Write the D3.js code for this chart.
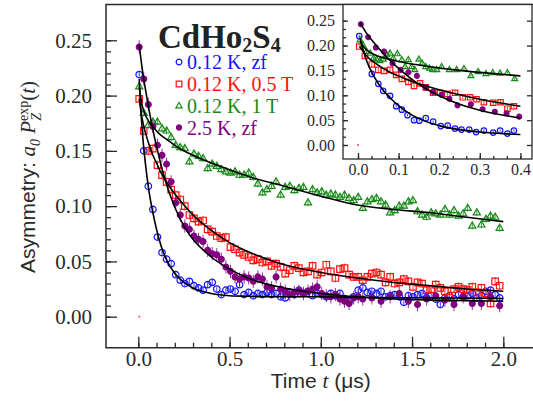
<!DOCTYPE html>
<html>
<head>
<meta charset="utf-8">
<script src="https://cdn.jsdelivr.net/npm/d3@7"></script>
<style>
  body { margin: 0; background: #fff; }
  svg { display: block; }
</style>
</head>
<body>
<div id="container"></div>
<script>
// ---------- data ----------
// main panel, time in microseconds
var tGrid = [0.005,0.030,0.055,0.080,0.105,0.130,0.155,0.180,0.205,0.230,
             0.255,0.280,0.305,0.330,0.355,0.380,0.405,0.430,0.455,0.480,
             0.505,0.530,0.555,0.580,0.605,0.630,0.655,0.680,0.705,0.730,
             0.755,0.780,0.805,0.830,0.855,0.880,0.905,0.930,0.955,0.980,
             1.005,1.030,1.055,1.080,1.105,1.130,1.155,1.180,1.205,1.230,
             1.255,1.280,1.305,1.330,1.355,1.380,1.405,1.430,1.455,1.480,
             1.505,1.530,1.555,1.580,1.605,1.630,1.655,1.680,1.705,1.730,
             1.755,1.780,1.805,1.830,1.855,1.880,1.905,1.930,1.955,1.980];

// 0.12 K, zf
var lowZf = [0.219,0.150,0.118,0.097,0.072,0.058,0.052,0.048,0.038,0.033,
             0.030,0.032,0.028,0.026,0.024,0.029,0.031,0.025,0.020,0.024,
             0.025,0.023,0.029,0.020,0.022,0.019,0.021,0.020,0.022,0.020,
             0.021,0.018,0.017,0.022,0.020,0.024,0.021,0.023,0.019,0.021,
             0.020,0.018,0.021,0.019,0.021,0.016,0.014,0.018,0.024,0.026,
             0.022,0.023,0.021,0.023,0.018,0.019,0.020,0.018,0.013,0.019,
             0.018,0.020,0.021,0.017,0.019,0.016,0.011,0.017,0.019,0.016,
             0.020,0.018,0.019,0.021,0.017,0.019,0.023,0.024,0.020,0.017];

// 0.12 K, 0.5 T
var lowHalfT = [0.197,0.168,0.150,0.152,0.137,0.128,0.122,0.115,0.110,0.106,
                0.100,0.092,0.089,0.086,0.087,0.079,0.077,0.073,0.071,0.072,
                0.063,0.061,0.058,0.056,0.054,0.051,0.052,0.049,0.050,0.046,
                0.048,0.045,0.039,0.042,0.046,0.044,0.040,0.041,0.046,0.038,
                0.040,0.047,0.041,0.035,0.043,0.044,0.038,0.036,0.036,0.033,
                0.036,0.039,0.040,0.038,0.031,0.036,0.030,0.031,0.034,0.032,
                0.027,0.031,0.030,0.024,0.025,0.029,0.026,0.023,0.017,0.025,
                0.027,0.025,0.024,0.027,0.022,0.026,0.021,0.012,0.032,0.028];

// 0.12 K, 1 T
var lowOneT = [0.208,0.184,0.173,0.176,0.176,0.170,0.168,0.162,0.155,0.153,
               0.152,0.140,0.147,0.145,0.143,0.134,0.138,0.136,0.133,0.131,
               0.130,0.131,0.128,0.128,0.130,0.126,0.120,0.112,0.115,0.118,
               0.122,0.110,0.117,0.118,0.114,0.116,0.117,0.103,0.115,0.112,
               0.113,0.110,0.111,0.110,0.108,0.110,0.107,0.105,0.108,0.098,
               0.104,0.106,0.107,0.104,0.101,0.094,0.096,0.100,0.100,0.104,
               0.105,0.095,0.092,0.090,0.094,0.093,0.092,0.097,0.092,0.096,
               0.091,0.093,0.098,0.082,0.094,0.083,0.088,0.091,0.090,0.080];

// 2.5 K, zf (sparser at late times)
var tHot = [0.005,0.030,0.055,0.080,0.105,0.130,0.155,0.180,0.205,0.230,
            0.255,0.280,0.305,0.330,0.355,0.380,0.405,0.430,0.455,0.480,
            0.505,0.530,0.555,0.580,0.605,0.630,0.655,0.680,0.705,0.730,
            0.755,0.780,0.805,0.830,0.855,0.880,0.905,0.930,0.955,0.980,
            1.005,1.030,1.055,1.080,1.105,1.130,1.155,1.180,1.205,1.230,
            1.280,1.330,1.380,1.430,1.480,1.530,1.580,1.630,1.680,1.730,
            1.780,1.830,1.880,1.930,1.980];
var hotZf = [0.244,0.215,0.192,0.172,0.155,0.146,0.138,0.122,0.103,0.092,
             0.082,0.079,0.073,0.070,0.068,0.060,0.057,0.056,0.052,0.045,
             0.041,0.036,0.034,0.036,0.035,0.032,0.036,0.034,0.027,0.026,
             0.036,0.025,0.023,0.020,0.022,0.023,0.021,0.023,0.025,0.027,
             0.021,0.019,0.018,0.020,0.016,0.014,0.012,0.017,0.018,0.016,
             0.017,0.014,0.018,0.021,0.014,0.011,0.016,0.019,0.015,0.011,
             0.018,0.012,0.012,0.018,0.010];

// fitted curves (black lines)
var tFit = [0.005,0.02,0.04,0.06,0.08,0.10,0.125,0.15,0.20,0.25,0.30,0.40,0.50,0.60,0.80,1.00,1.20,1.40,1.60,1.80,2.00];
var fitLowZf   = [0.215,0.172,0.137,0.112,0.094,0.079,0.064,0.053,0.039,0.031,0.026,0.021,0.019,0.0185,0.018,0.018,0.0175,0.0172,0.017,0.0168,0.0165];
var fitHalfT   = [0.197,0.180,0.166,0.155,0.146,0.139,0.130,0.123,0.111,0.101,0.092,0.078,0.067,0.059,0.047,0.040,0.035,0.031,0.028,0.025,0.023];
var fitOneT    = [0.208,0.192,0.182,0.176,0.172,0.168,0.164,0.161,0.155,0.150,0.146,0.139,0.133,0.127,0.118,0.109,0.101,0.097,0.094,0.090,0.086];
var fitHotZf   = [0.246,0.226,0.205,0.186,0.169,0.154,0.137,0.122,0.099,0.082,0.070,0.054,0.043,0.035,0.026,0.021,0.018,0.016,0.015,0.0145,0.014];

// inset, early times
var inLowZfT = [0.003,0.034,0.050,0.062,0.079,0.094,0.108,0.122,0.138,0.151,0.167,0.185,0.204,0.221,0.239,0.255,0.274,0.291,0.310,0.333,0.350,0.368,0.384];
var inLowZf  = [0.219,0.143,0.123,0.109,0.099,0.078,0.071,0.060,0.050,0.049,0.054,0.047,0.038,0.039,0.033,0.031,0.031,0.026,0.029,0.025,0.029,0.023,0.029];
var inHalfTT = [0.003,0.017,0.034,0.050,0.064,0.079,0.094,0.108,0.124,0.138,0.153,0.167,0.185,0.202,0.220,0.239,0.258,0.276,0.292,0.310,0.333,0.351,0.368,0.384];
var inHalfT  = [0.198,0.179,0.162,0.151,0.149,0.151,0.141,0.133,0.127,0.119,0.124,0.116,0.105,0.105,0.103,0.105,0.096,0.096,0.092,0.086,0.085,0.086,0.073,0.078];
var inOneTT  = [0.005,0.012,0.021,0.030,0.038,0.046,0.054,0.062,0.071,0.079,0.087,0.097,0.108,0.116,0.124,0.132,0.140,
                0.150,0.158,0.167,0.176,0.184,0.194,0.206,0.225,0.243,0.261,0.278,0.296,0.315,0.332,0.350,0.368,0.386];
var inOneT   = [0.211,0.201,0.188,0.184,0.174,0.172,0.169,0.172,0.181,0.184,0.174,0.183,0.171,0.157,0.171,0.157,0.151,
                0.172,0.164,0.157,0.154,0.151,0.151,0.157,0.151,0.151,0.153,0.139,0.147,0.143,0.145,0.144,0.145,0.133];
var inHotZfT = [0.007,0.025,0.044,0.064,0.085,0.105,0.124,0.145,0.167,0.185,0.206,0.225,0.245,0.278,0.307,0.337,0.366,0.397];
var inHotZf  = [0.243,0.217,0.196,0.188,0.164,0.151,0.146,0.139,0.116,0.107,0.101,0.093,0.080,0.082,0.072,0.067,0.064,0.057];

// tick labels
var xMajor = [0, 0.5, 1.0, 1.5, 2.0];
var yMajor = [0, 0.05, 0.10, 0.15, 0.20, 0.25];
var xiMajor = [0, 0.1, 0.2, 0.3, 0.4];
var yiMajor = [0, 0.05, 0.10, 0.15, 0.20, 0.25];
var legendLabels = ["0.12 K, zf", "0.12 K, 0.5 T", "0.12 K, 1 T", "2.5 K, zf"];

// ---------- drawing ----------
var serif = "'Liberation Serif','Times New Roman',serif";
var sans = "'Liberation Sans',Arial,sans-serif";
var ink = "#2a2a2a";
var colors = ["#1414ff", "#ff1010", "#178a17", "#800080"];

var series = [
  {t: tGrid, v: lowZf,    it: inLowZfT, iv: inLowZf,  fit: fitLowZf, err: 0.0025, color: colors[0], sym: d3.symbolCircle,   size: 34, filled: false},
  {t: tGrid, v: lowHalfT, it: inHalfTT, iv: inHalfT,  fit: fitHalfT, err: 0.004,  color: colors[1], sym: d3.symbolSquare,   size: 42, filled: false},
  {t: tGrid, v: lowOneT,  it: inOneTT,  iv: inOneT,   fit: fitOneT,  err: 0.003,  color: colors[2], sym: d3.symbolTriangle, size: 22, filled: false},
  {t: tHot,  v: hotZf,    it: inHotZfT, iv: inHotZf,  fit: fitHotZf, err: 0.006,  color: colors[3], sym: d3.symbolCircle,   size: 27, filled: true}
];

var svg = d3.select("#container").append("svg")
    .attr("width", 533)
    .attr("height", 416);

// main panel geometry
var frame = {left: 106, top: 4.5, right: 545, bottom: 347.7};
var x = d3.scaleLinear().domain([0, 2]).range([138.3, 503.3]);
var y = d3.scaleLinear().domain([0, 0.25]).range([316.7, 40.3]);

// inset geometry
var box = {left: 343, top: 4.5, right: 532, bottom: 159};
var xi = d3.scaleLinear().domain([0, 0.4]).range([358, 520.4]);
var yi = d3.scaleLinear().domain([0, 0.25]).range([145, 20.7]);

function styleAxis(g, fontSize) {
  g.select(".domain").remove();
  g.attr("font-family", serif).attr("font-size", fontSize);
  g.selectAll(".tick line").attr("stroke", ink).attr("stroke-width", 1.3);
  g.selectAll(".tick text").attr("fill", ink).attr("font-family", serif);
}

function drawPoints(g, ts, vs, s, sx, sy, scale) {
  var pts = ts.map(function(t, i) { return {t: t, v: vs[i]}; });
  g.append("g").selectAll("line")
      .data(pts)
    .enter().append("line")
      .attr("x1", function(d) { return sx(d.t); })
      .attr("x2", function(d) { return sx(d.t); })
      .attr("y1", function(d) { return sy(d.v - s.err); })
      .attr("y2", function(d) { return sy(d.v + s.err); })
      .attr("stroke", s.color)
      .attr("stroke-width", 1)
      .attr("opacity", 0.8);
  g.append("g").selectAll("path")
      .data(pts)
    .enter().append("path")
      .attr("transform", function(d) { return "translate(" + sx(d.t) + "," + sy(d.v) + ")"; })
      .attr("d", d3.symbol().type(s.sym).size(s.size * scale))
      .attr("fill", s.filled ? s.color : "none")
      .attr("stroke", s.color)
      .attr("stroke-width", 1.2);
}

function drawFit(g, tf, vf, sx, sy) {
  var line = d3.line()
      .x(function(d) { return sx(d[0]); })
      .y(function(d) { return sy(d[1]); })
      .curve(d3.curveMonotoneX);
  g.append("path")
      .datum(tf.map(function(t, i) { return [t, vf[i]]; }))
      .attr("d", line)
      .attr("fill", "none")
      .attr("stroke", "#000")
      .attr("stroke-width", 1.6);
}

// ---- main panel ----
svg.append("path")
    .attr("d", "M" + frame.right + "," + frame.top + "H" + frame.left + "V" + frame.bottom + "H" + frame.right)
    .attr("fill", "none")
    .attr("stroke", ink)
    .attr("stroke-width", 1.5);

// y axis, ticks pointing inward
svg.append("g")
    .attr("transform", "translate(" + frame.left + ",0)")
    .call(d3.axisLeft(y).tickValues(y.ticks(25)).tickFormat("").tickSize(-5))
    .call(styleAxis, 21);
svg.append("g")
    .attr("transform", "translate(" + frame.left + ",0)")
    .call(d3.axisLeft(y).tickValues(yMajor).tickFormat(d3.format(".2f")).tickSize(-11).tickPadding(14))
    .call(styleAxis, 21);

// x axis
svg.append("g")
    .attr("transform", "translate(0," + frame.bottom + ")")
    .call(d3.axisBottom(x).tickValues(x.ticks(20)).tickFormat("").tickSize(-5))
    .call(styleAxis, 21);
svg.append("g")
    .attr("transform", "translate(0," + frame.bottom + ")")
    .call(d3.axisBottom(x).tickValues(xMajor).tickFormat(d3.format(".1f")).tickSize(-11).tickPadding(3.5))
    .call(styleAxis, 21);

// stray point at the origin
svg.append("rect").attr("x", x(0)).attr("y", y(0) - 1).attr("width", 2).attr("height", 2).attr("fill", "#ff7070");

var mainG = svg.append("g");
series.forEach(function(s) { drawPoints(mainG, s.t, s.v, s, x, y, 1); });
series.forEach(function(s) { drawFit(mainG, tFit, s.fit, x, y); });

// axis titles
svg.append("text")
    .attr("x", x(1))
    .attr("y", 388)
    .attr("text-anchor", "middle")
    .attr("font-size", 21)
    .attr("fill", ink)
    .attr("font-family", sans)
    .call(function(t) {
      t.append("tspan").text("Time ");
      t.append("tspan").attr("font-family", serif).attr("font-style", "italic").text("t");
      t.append("tspan").text(" (\u03bcs)");
    });

svg.append("text")
    .attr("transform", "translate(35,177) rotate(-90)")
    .attr("text-anchor", "middle")
    .attr("font-size", 21)
    .attr("fill", ink)
    .attr("font-family", sans)
    .call(function(t) {
      t.append("tspan").text("Asymmetry: ");
      t.append("tspan").attr("font-family", serif).attr("font-style", "italic").text("a");
      t.append("tspan").attr("font-family", serif).attr("font-style", "italic").attr("font-size", 14).attr("dy", 5).text("0");
      t.append("tspan").attr("font-family", serif).attr("dy", -5).text(" ");
      t.append("tspan").attr("font-family", serif).attr("font-style", "italic").text("P");
      t.append("tspan").attr("font-family", serif).attr("font-style", "italic").attr("font-size", 14).attr("dy", 6).text("Z");
      t.append("tspan").attr("font-family", serif).attr("font-size", 14).attr("dx", -8).attr("dy", -13).text("exp");
      t.append("tspan").attr("font-family", serif).attr("dy", 7).text("(");
      t.append("tspan").attr("font-family", serif).attr("font-style", "italic").text("t");
      t.append("tspan").attr("font-family", serif).text(")");
    });

// compound name
svg.append("text")
    .attr("x", 158)
    .attr("y", 48)
    .attr("font-family", serif)
    .attr("font-weight", "bold")
    .attr("font-size", 33)
    .attr("fill", "#222")
    .call(function(t) {
      t.append("tspan").text("CdHo");
      t.append("tspan").attr("font-size", 20).attr("dy", 4).text("2");
      t.append("tspan").attr("dy", -4).text("S");
      t.append("tspan").attr("font-size", 20).attr("dy", 4).text("4");
    });

// legend
var legendRows = [62, 84, 106, 127.5];
var legend = svg.selectAll(".legend")
    .data(series)
  .enter().append("g")
    .attr("class", "legend")
    .attr("transform", function(d, i) { return "translate(179," + legendRows[i] + ")"; });

legend.append("path")
    .attr("d", function(d) { return d3.symbol().type(d.sym).size(d.size * 0.75)(); })
    .attr("fill", function(d) { return d.filled ? d.color : "none"; })
    .attr("stroke", function(d) { return d.color; })
    .attr("stroke-width", 1.2);

legend.append("text")
    .attr("x", 8)
    .attr("y", 7.3)
    .attr("font-family", serif)
    .attr("font-size", 20)
    .attr("fill", function(d) { return d.color; })
    .text(function(d, i) { return legendLabels[i]; });

// ---- inset ----
svg.append("rect")
    .attr("x", box.left)
    .attr("y", box.top)
    .attr("width", box.right - box.left)
    .attr("height", box.bottom - box.top)
    .attr("fill", "#fff")
    .attr("stroke", ink)
    .attr("stroke-width", 1.3);

svg.append("g")
    .attr("transform", "translate(" + box.left + ",0)")
    .call(d3.axisLeft(yi).tickValues(d3.range(0, 0.251, 0.05 / 3)).tickFormat("").tickSize(-3))
    .call(styleAxis, 16);
svg.append("g")
    .attr("transform", "translate(" + box.left + ",0)")
    .call(d3.axisLeft(yi).tickValues(yiMajor).tickFormat(d3.format(".2f")).tickSize(-5).tickPadding(8))
    .call(styleAxis, 16);
svg.append("g")
    .attr("transform", "translate(" + box.right + ",0)")
    .call(d3.axisRight(yi).tickValues(yiMajor).tickFormat("").tickSize(-5))
    .call(styleAxis, 16);
svg.append("g")
    .attr("transform", "translate(0," + box.bottom + ")")
    .call(d3.axisBottom(xi).tickValues(d3.range(0, 0.401, 0.1 / 3)).tickFormat("").tickSize(-3))
    .call(styleAxis, 16);
svg.append("g")
    .attr("transform", "translate(0," + box.bottom + ")")
    .call(d3.axisBottom(xi).tickValues(xiMajor).tickFormat(d3.format(".1f")).tickSize(-6).tickPadding(4.6))
    .call(styleAxis, 16);

svg.append("rect").attr("x", xi(0) - 1).attr("y", yi(0) - 1).attr("width", 2).attr("height", 2).attr("fill", "#ff7070");

var insetG = svg.append("g");
series.forEach(function(s) { drawPoints(insetG, s.it, s.iv, s, xi, yi, 0.7); });
series.forEach(function(s) {
  var tf = tFit.filter(function(t) { return t <= 0.4; });
  drawFit(insetG, tf, s.fit.slice(0, tf.length), xi, yi);
});
</script>
</body>
</html>
